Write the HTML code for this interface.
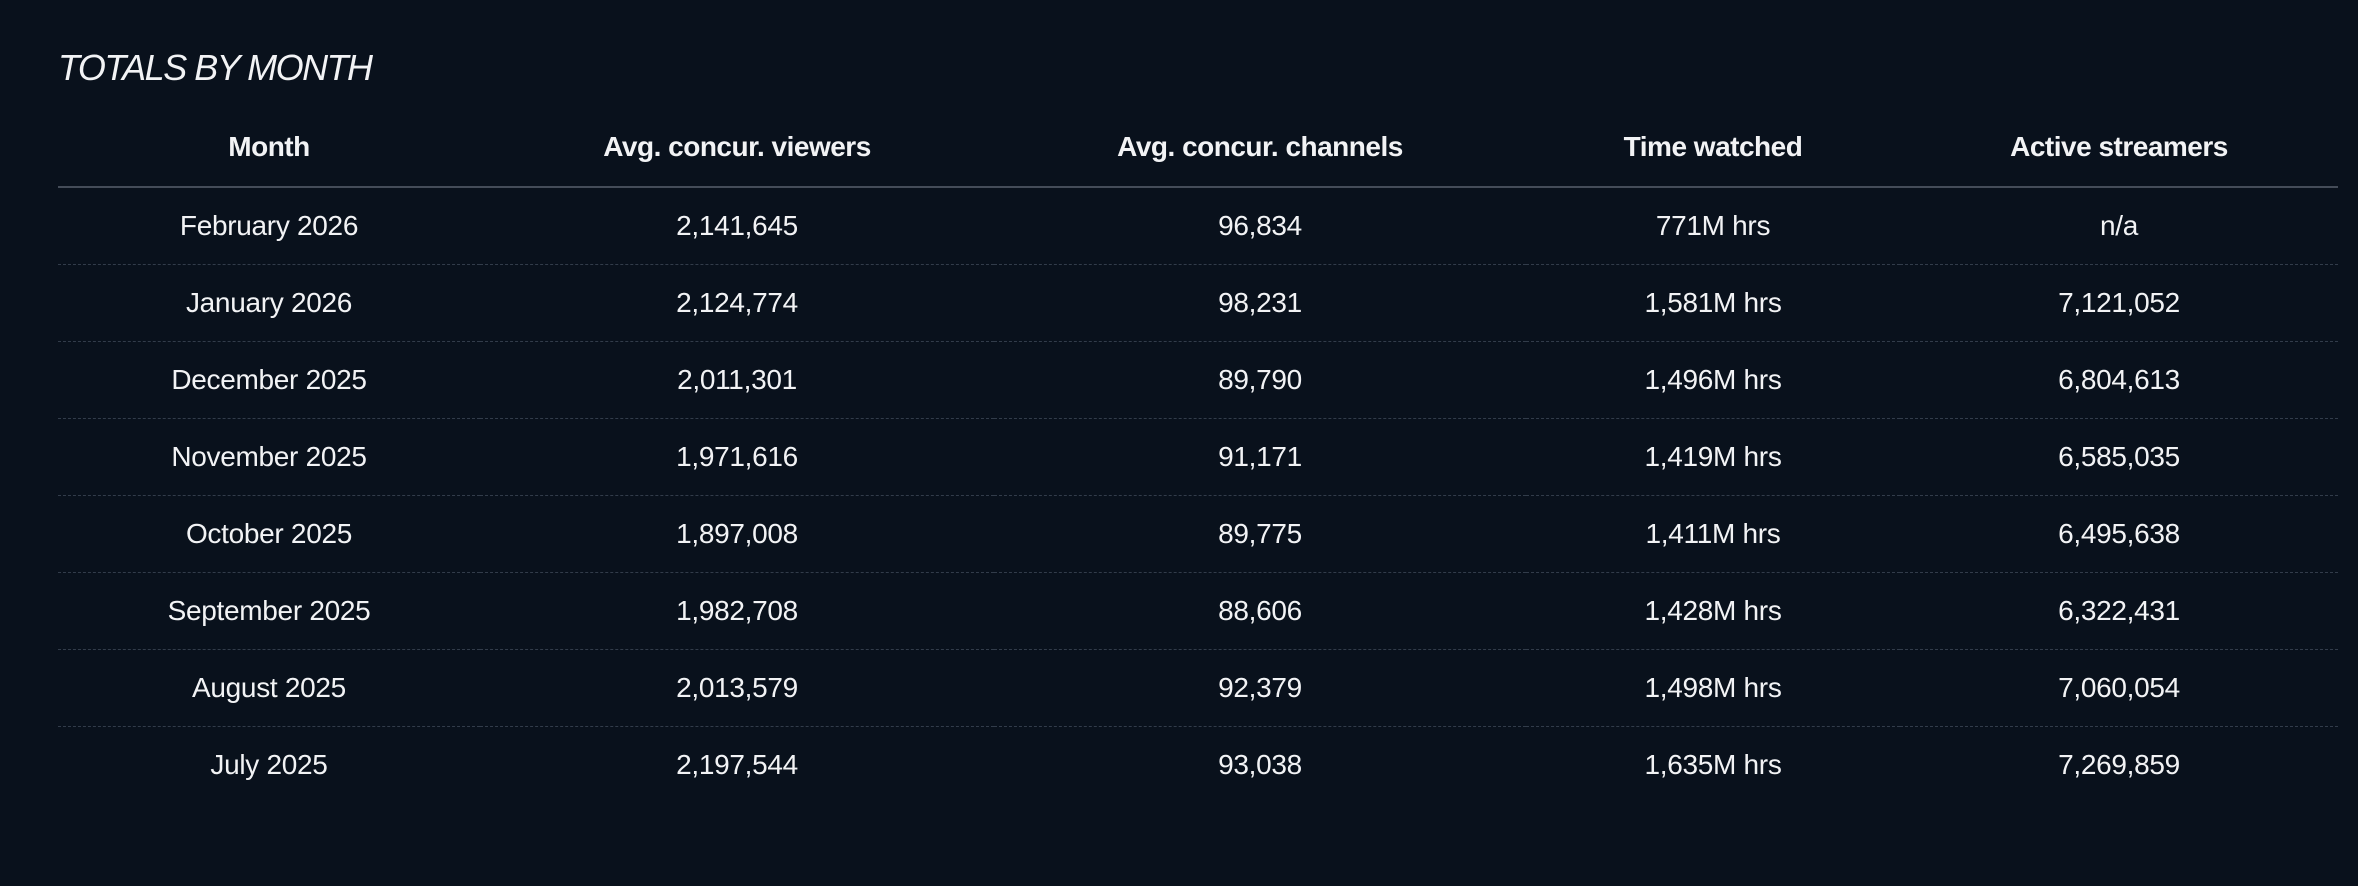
<!DOCTYPE html>
<html><head><meta charset="utf-8"><style>
html,body{margin:0;padding:0;background:#09111c;width:2358px;height:886px;overflow:hidden;font-family:"Liberation Sans",sans-serif;color:#f2f3f5}
.title{position:absolute;left:58px;top:48px;font-size:36px;font-style:italic;letter-spacing:-1.5px;line-height:40px}
table{position:absolute;left:58px;top:120px;border-collapse:collapse;width:2280px;table-layout:fixed}
th{font-weight:bold;font-size:28px;height:54px;padding:0 0 12px 0;border-bottom:2px solid #444c58;text-align:center;letter-spacing:-0.5px}
td{font-size:28px;height:76px;border-bottom:1px dashed #323c4a;text-align:center;padding:0;letter-spacing:-0.3px}
tr:last-child td{border-bottom:none}
</style></head><body>
<div class="title">TOTALS BY MONTH</div>
<table>
<colgroup><col style="width:422px"><col style="width:514px"><col style="width:532px"><col style="width:374px"><col style="width:438px"></colgroup>
<tr><th>Month</th><th>Avg. concur. viewers</th><th>Avg. concur. channels</th><th>Time watched</th><th>Active streamers</th></tr>
<tr><td>February 2026</td><td>2,141,645</td><td>96,834</td><td>771M hrs</td><td>n/a</td></tr>
<tr><td>January 2026</td><td>2,124,774</td><td>98,231</td><td>1,581M hrs</td><td>7,121,052</td></tr>
<tr><td>December 2025</td><td>2,011,301</td><td>89,790</td><td>1,496M hrs</td><td>6,804,613</td></tr>
<tr><td>November 2025</td><td>1,971,616</td><td>91,171</td><td>1,419M hrs</td><td>6,585,035</td></tr>
<tr><td>October 2025</td><td>1,897,008</td><td>89,775</td><td>1,411M hrs</td><td>6,495,638</td></tr>
<tr><td>September 2025</td><td>1,982,708</td><td>88,606</td><td>1,428M hrs</td><td>6,322,431</td></tr>
<tr><td>August 2025</td><td>2,013,579</td><td>92,379</td><td>1,498M hrs</td><td>7,060,054</td></tr>
<tr><td>July 2025</td><td>2,197,544</td><td>93,038</td><td>1,635M hrs</td><td>7,269,859</td></tr>
</table>
</body></html>
